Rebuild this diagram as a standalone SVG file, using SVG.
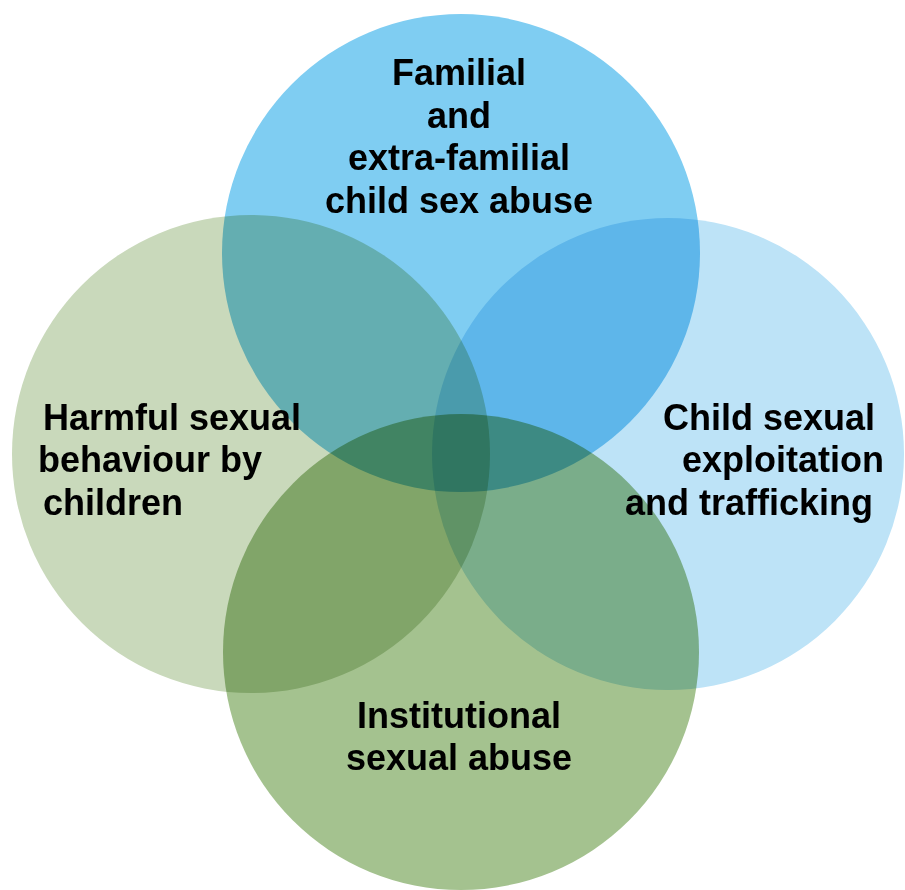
<svg xmlns="http://www.w3.org/2000/svg" width="905" height="890" viewBox="0 0 905 890">
<style>
.c{mix-blend-mode:multiply}
text{font-family:"Liberation Sans",Arial,sans-serif;font-weight:bold;font-size:36px;fill:#000}
.m{text-anchor:middle}
</style>
<rect x="0" y="0" width="905" height="890" fill="#ffffff"/>
<g id="circles">
<g id="harmful"><circle class="c" cx="251" cy="454" r="239" fill="#c9d9bb"/></g>
<g id="exploitation"><circle class="c" cx="668" cy="454" r="236" fill="#bde3f7"/></g>
<g id="familial"><circle class="c" cx="461" cy="253" r="239" fill="#7fcdf2"/></g>
<g id="institutional"><circle class="c" cx="461" cy="652" r="238" fill="#a4c28f"/></g>
</g>
<g id="labels">
<text class="m" x="459" y="85">Familial</text>
<text class="m" x="459" y="128">and</text>
<text class="m" x="459" y="170">extra-familial</text>
<text class="m" x="459" y="213">child sex abuse</text>
<text x="663" y="430">Child sexual</text>
<text x="682" y="472">exploitation</text>
<text x="625" y="515">and trafficking</text>
<text x="43" y="430">Harmful sexual</text>
<text x="38" y="472">behaviour by</text>
<text x="43" y="515">children</text>
<text class="m" x="459" y="728">Institutional</text>
<text class="m" x="459" y="770">sexual abuse</text>
</g>
</svg>
